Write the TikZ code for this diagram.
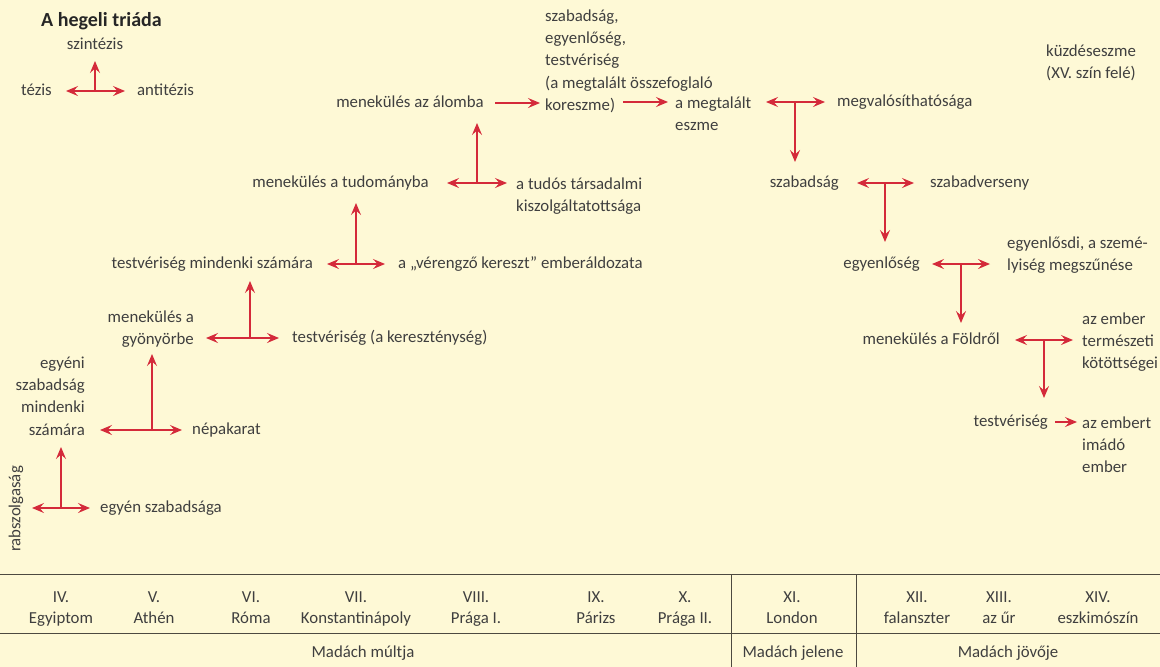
\documentclass[tikz,border=0pt]{standalone}
\usepackage{fontspec}
\setmainfont{Carlito}
\usetikzlibrary{arrows.meta}
\definecolor{bg}{HTML}{FEF9D6}
\definecolor{rd}{HTML}{D42A3A}
\definecolor{tx}{HTML}{3F3F3F}
\definecolor{ln}{HTML}{4D4A40}
\newcommand\fsz{\fontsize{16.8}{22.3}\selectfont}
\newcommand\fcell{\fontsize{16.8}{21}\selectfont}
\begin{document}
\begin{tikzpicture}[x=1pt,y=-1pt,
  t/.style={inner sep=0pt, text=tx, font=\fsz, execute at begin node=\strut},
  tl/.style={t, anchor=west},
  tr/.style={t, anchor=east},
  tc/.style={t, anchor=center},
  ml/.style={t, anchor=north west, align=left, yshift=5.5pt},
  mr/.style={t, anchor=north east, align=right, yshift=5.5pt},
  mc/.style={t, anchor=north, align=center, yshift=5.5pt},
  cell/.style={inner sep=0pt, text=tx, font=\fcell, execute at begin node=\strut, anchor=north, align=center, yshift=5.5pt},
  tip/.tip={Stealth[length=12pt,width=10pt,inset=4.5pt]},
  arr/.style={draw=rd, line width=1.3pt, -tip},
  arr2/.style={draw=rd, line width=1.3pt, tip-tip},
  rule/.style={draw=ln, line width=1pt}]
\fill[bg] (0,0) rectangle (1160,667);
\useasboundingbox (0,0) rectangle (1160,667);

% ---- Hegel triad legend
\node[t, anchor=west, font=\fontsize{20}{22}\selectfont\bfseries, text=black!85] (title) at (41,22) {A hegeli triáda};
\node[tc] (szint) at (95,45) {szintézis};
\node[tr] (tezis) at (52,91) {tézis};
\node[tl] (antit) at (137,91) {antitézis};
\coordinate (j0) at (95,91); \coordinate (j0l) at (66,91); \coordinate (j0r) at (125,91); \coordinate (j0e) at (95,61);
\draw[arr2] (j0l) -- (j0r); \draw[arr] (j0) -- (j0e);

% ---- IV
\node[tc, rotate=90] (rabsz) at (16,509) {rabszolgaság};
\node[tl] (egyensz) at (100,508) {egyén szabadsága};
\coordinate (j1) at (61,508); \coordinate (j1l) at (32,508); \coordinate (j1r) at (90,508); \coordinate (j1e) at (61,447);
\draw[arr2] (j1l) -- (j1r); \draw[arr] (j1) -- (j1e);

% ---- V
\node[mr] (egyeni) at (85,362) {egyéni\\szabadság\\mindenki\\számára};
\node[tl] (nepak) at (192,430) {népakarat};
\coordinate (j2) at (152,430); \coordinate (j2l) at (100,430); \coordinate (j2r) at (182,430); \coordinate (j2e) at (152,354);
\draw[arr2] (j2l) -- (j2r); \draw[arr] (j2) -- (j2e);

% ---- VI
\node[mr] (gyony) at (194,316) {menekülés a\\gyönyörbe};
\node[tl] (kereszt) at (292,338) {testvériség (a kereszténység)};
\coordinate (j3) at (250,338); \coordinate (j3l) at (206,338); \coordinate (j3r) at (279,338); \coordinate (j3e) at (250,281);
\draw[arr2] (j3l) -- (j3r); \draw[arr] (j3) -- (j3e);

% ---- VII
\node[tr] (testmind) at (313,264) {testvériség mindenki számára};
\node[tl] (vereng) at (398,264) {a „vérengző kereszt” emberáldozata};
\coordinate (j4) at (356,264); \coordinate (j4l) at (327,264); \coordinate (j4r) at (385,264); \coordinate (j4e) at (356,203);
\draw[arr2] (j4l) -- (j4r); \draw[arr] (j4) -- (j4e);

% ---- VIII
\node[tr] (tudom) at (429,183) {menekülés a tudományba};
\node[ml] (tudos) at (516,183) {a tudós társadalmi\\kiszolgáltatottsága};
\coordinate (j5) at (477,183); \coordinate (j5l) at (447,183); \coordinate (j5r) at (507,183); \coordinate (j5e) at (477,123);
\draw[arr2] (j5l) -- (j5r); \draw[arr] (j5) -- (j5e);

% ---- IX / X
\node[tr] (alom) at (484,103) {menekülés az álomba};
\node[ml] (szeg) at (545,15) {szabadság,\\egyenlőség,\\testvériség\\(a megtalált összefoglaló\\koreszme)};
\coordinate (a6s) at (495,103); \coordinate (a6e) at (540,103);
\draw[arr] (a6s) -- (a6e);
\node[ml] (megtal) at (675,102) {a megtalált\\eszme};
\coordinate (a7s) at (623,102); \coordinate (a7e) at (668,102);
\draw[arr] (a7s) -- (a7e);
\node[tl] (megval) at (837,102) {megvalósíthatósága};
\coordinate (j8) at (795,102); \coordinate (j8l) at (766,102); \coordinate (j8r) at (825,102); \coordinate (j8e) at (795,162);
\draw[arr2] (j8l) -- (j8r); \draw[arr] (j8) -- (j8e);

\node[mc] (kuzd) at (1091,50) {küzdéseszme\\(XV. szín felé)};

% ---- XII
\node[tr] (szab) at (839,183) {szabadság};
\node[tl] (szabv) at (930,183) {szabadverseny};
\coordinate (j9) at (885,183); \coordinate (j9l) at (857,183); \coordinate (j9r) at (914,183); \coordinate (j9e) at (885,242);
\draw[arr2] (j9l) -- (j9r); \draw[arr] (j9) -- (j9e);

% ---- XIII
\node[tr] (egyenl) at (920,264) {egyenlőség};
\node[ml] (egyenlsd) at (1007,242) {egyenlősdi, a szemé-\\lyiség megszűnése};
\coordinate (j10) at (961,264); \coordinate (j10l) at (932,264); \coordinate (j10r) at (990,264); \coordinate (j10e) at (961,323);
\draw[arr2] (j10l) -- (j10r); \draw[arr] (j10) -- (j10e);

% ---- XIV
\node[tr] (fold) at (1000,340) {menekülés a Földről};
\node[ml] (termesz) at (1082,318) {az ember\\természeti\\kötöttségei};
\coordinate (j11) at (1044,340); \coordinate (j11l) at (1015,340); \coordinate (j11r) at (1073,340); \coordinate (j11e) at (1044,398);
\draw[arr2] (j11l) -- (j11r); \draw[arr] (j11) -- (j11e);

\node[tr] (testv) at (1048,422) {testvériség};
\node[ml] (imado) at (1082,422) {az embert\\imádó\\ember};
\coordinate (a12s) at (1055,422); \coordinate (a12e) at (1077,422);
\draw[arr] (a12s) -- (a12e);

% ---- table
\coordinate (r1l) at (0,574); \coordinate (r1r) at (1160,574);
\coordinate (r2l) at (0,633); \coordinate (r2r) at (1160,633);
\coordinate (v1t) at (731,574); \coordinate (v1b) at (731,667);
\coordinate (v2t) at (856,574); \coordinate (v2b) at (856,667);
\draw[rule] (r1l) -- (r1r);
\draw[rule] (r2l) -- (r2r);
\draw[rule] (v1t) -- (v1b);
\draw[rule] (v2t) -- (v2b);

\node[cell] (c4) at (61,597) {IV.\\Egyiptom};
\node[cell] (c5) at (154,597) {V.\\Athén};
\node[cell] (c6) at (251,597) {VI.\\Róma};
\node[cell] (c7) at (356,597) {VII.\\Konstantinápoly};
\node[cell] (c8) at (476,597) {VIII.\\Prága I.};
\node[cell] (c9) at (596,597) {IX.\\Párizs};
\node[cell] (c10) at (685,597) {X.\\Prága II.};
\node[cell] (c11) at (792,597) {XI.\\London};
\node[cell] (c12) at (917,597) {XII.\\falanszter};
\node[cell] (c13) at (999,597) {XIII.\\az űr};
\node[cell] (c14) at (1098,597) {XIV.\\eszkimószín};

\node[tc] (mult) at (363,653) {Madách múltja};
\node[tc] (jelen) at (793,653) {Madách jelene};
\node[tc] (jovo) at (1008,653) {Madách jövője};
\end{tikzpicture}
\end{document}
